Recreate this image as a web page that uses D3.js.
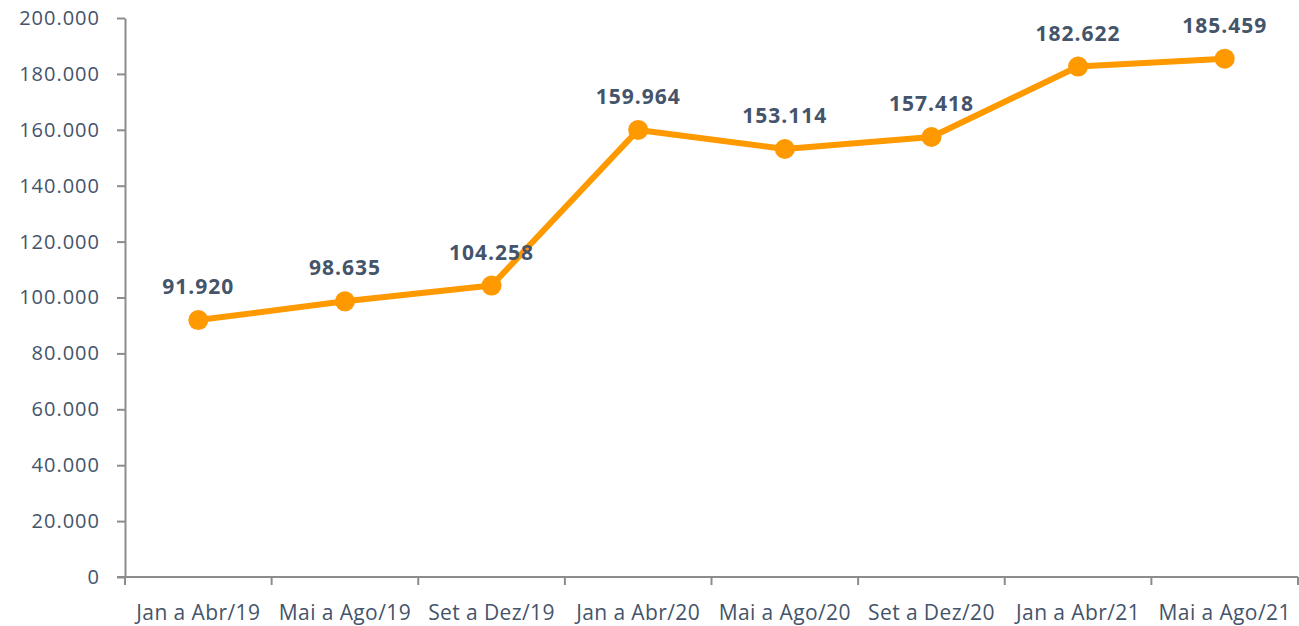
<!DOCTYPE html>
<html>
<head>
<meta charset="utf-8">
<script src="https://cdn.jsdelivr.net/npm/d3@7"></script>
<style>
  body { margin: 0; background: #fff; }
  svg text { font-family: "Open Sans", Lato, sans-serif; fill: #44546a; }
</style>
</head>
<body>
<div id="content"></div>
<script>
const periods = [
  "Jan a Abr/19", "Mai a Ago/19", "Set a Dez/19", "Jan a Abr/20",
  "Mai a Ago/20", "Set a Dez/20", "Jan a Abr/21", "Mai a Ago/21",
];
const values = [91920, 98635, 104258, 159964, 153114, 157418, 182622, 185459];
const yTicks = [0, 20000, 40000, 60000, 80000, 100000, 120000, 140000, 160000, 180000, 200000];

const width = 1299;
const height = 626;
const margin = { top: 18, right: 1, bottom: 49, left: 125 };

const locale = d3.formatLocale({ decimal: ",", thousands: ".", grouping: [3], currency: ["", ""] });
const fmt = locale.format(",d");

const svg = d3
  .select("#content")
  .append("svg")
  .attr("width", width)
  .attr("height", height);

const x = d3
  .scaleBand()
  .domain(periods)
  .range([margin.left, width - margin.right]);

const y = d3
  .scaleLinear()
  .domain([0, 200000])
  .range([height - margin.bottom, margin.top]);

// y axis
const yAxis = svg
  .append("g")
  .attr("transform", `translate(${margin.left},0)`)
  .call(d3.axisLeft(y).tickValues(yTicks).tickFormat(fmt).tickSize(8).tickSizeOuter(0).tickPadding(17));
yAxis.select(".domain").attr("stroke", "#8c8c8c").attr("stroke-width", 2);
yAxis.selectAll(".tick line").attr("stroke", "#8c8c8c").attr("stroke-width", 2);
yAxis.selectAll("text").style("font-size", "20px").style("letter-spacing", "1px");

// x axis: boundary ticks
const edges = d3.range(periods.length + 1).map((i) => margin.left + i * x.step());
const xAxis = svg
  .append("g")
  .attr("transform", `translate(0,${y(0)})`);
xAxis
  .append("line")
  .attr("x1", margin.left - 8)
  .attr("x2", width - margin.right)
  .attr("stroke", "#8c8c8c")
  .attr("stroke-width", 2);
xAxis
  .selectAll(".edge")
  .data(edges)
  .enter()
  .append("line")
  .attr("class", "edge")
  .attr("x1", (d) => d)
  .attr("x2", (d) => d)
  .attr("y1", 0)
  .attr("y2", 8)
  .attr("stroke", "#8c8c8c")
  .attr("stroke-width", 2);
xAxis
  .selectAll(".cat")
  .data(periods)
  .enter()
  .append("text")
  .attr("class", "cat")
  .attr("x", (d) => x(d) + x.bandwidth() / 2)
  .attr("y", 43)
  .attr("text-anchor", "middle")
  .style("font-size", "21px")
  .style("letter-spacing", "0.4px")
  .text((d) => d);

// line
const cx = (i) => x(periods[i]) + x.bandwidth() / 2;
const line = d3
  .line()
  .x((d, i) => cx(i))
  .y((d) => y(d));

svg
  .append("path")
  .datum(values)
  .attr("fill", "none")
  .attr("stroke", "#ff9900")
  .attr("stroke-width", 6)
  .attr("stroke-linejoin", "round")
  .attr("d", line);

svg
  .selectAll(".dot")
  .data(values)
  .enter()
  .append("circle")
  .attr("class", "dot")
  .attr("cx", (d, i) => cx(i))
  .attr("cy", (d) => y(d))
  .attr("r", 10)
  .attr("fill", "#ff9900");

svg
  .selectAll(".lbl")
  .data(values)
  .enter()
  .append("text")
  .attr("class", "lbl")
  .attr("x", (d, i) => cx(i))
  .attr("y", (d) => y(d) - 26)
  .attr("text-anchor", "middle")
  .style("font-size", "21px")
  .style("font-weight", "bold")
  .style("letter-spacing", "1px")
  .text((d) => fmt(d));
</script>
</body>
</html>
